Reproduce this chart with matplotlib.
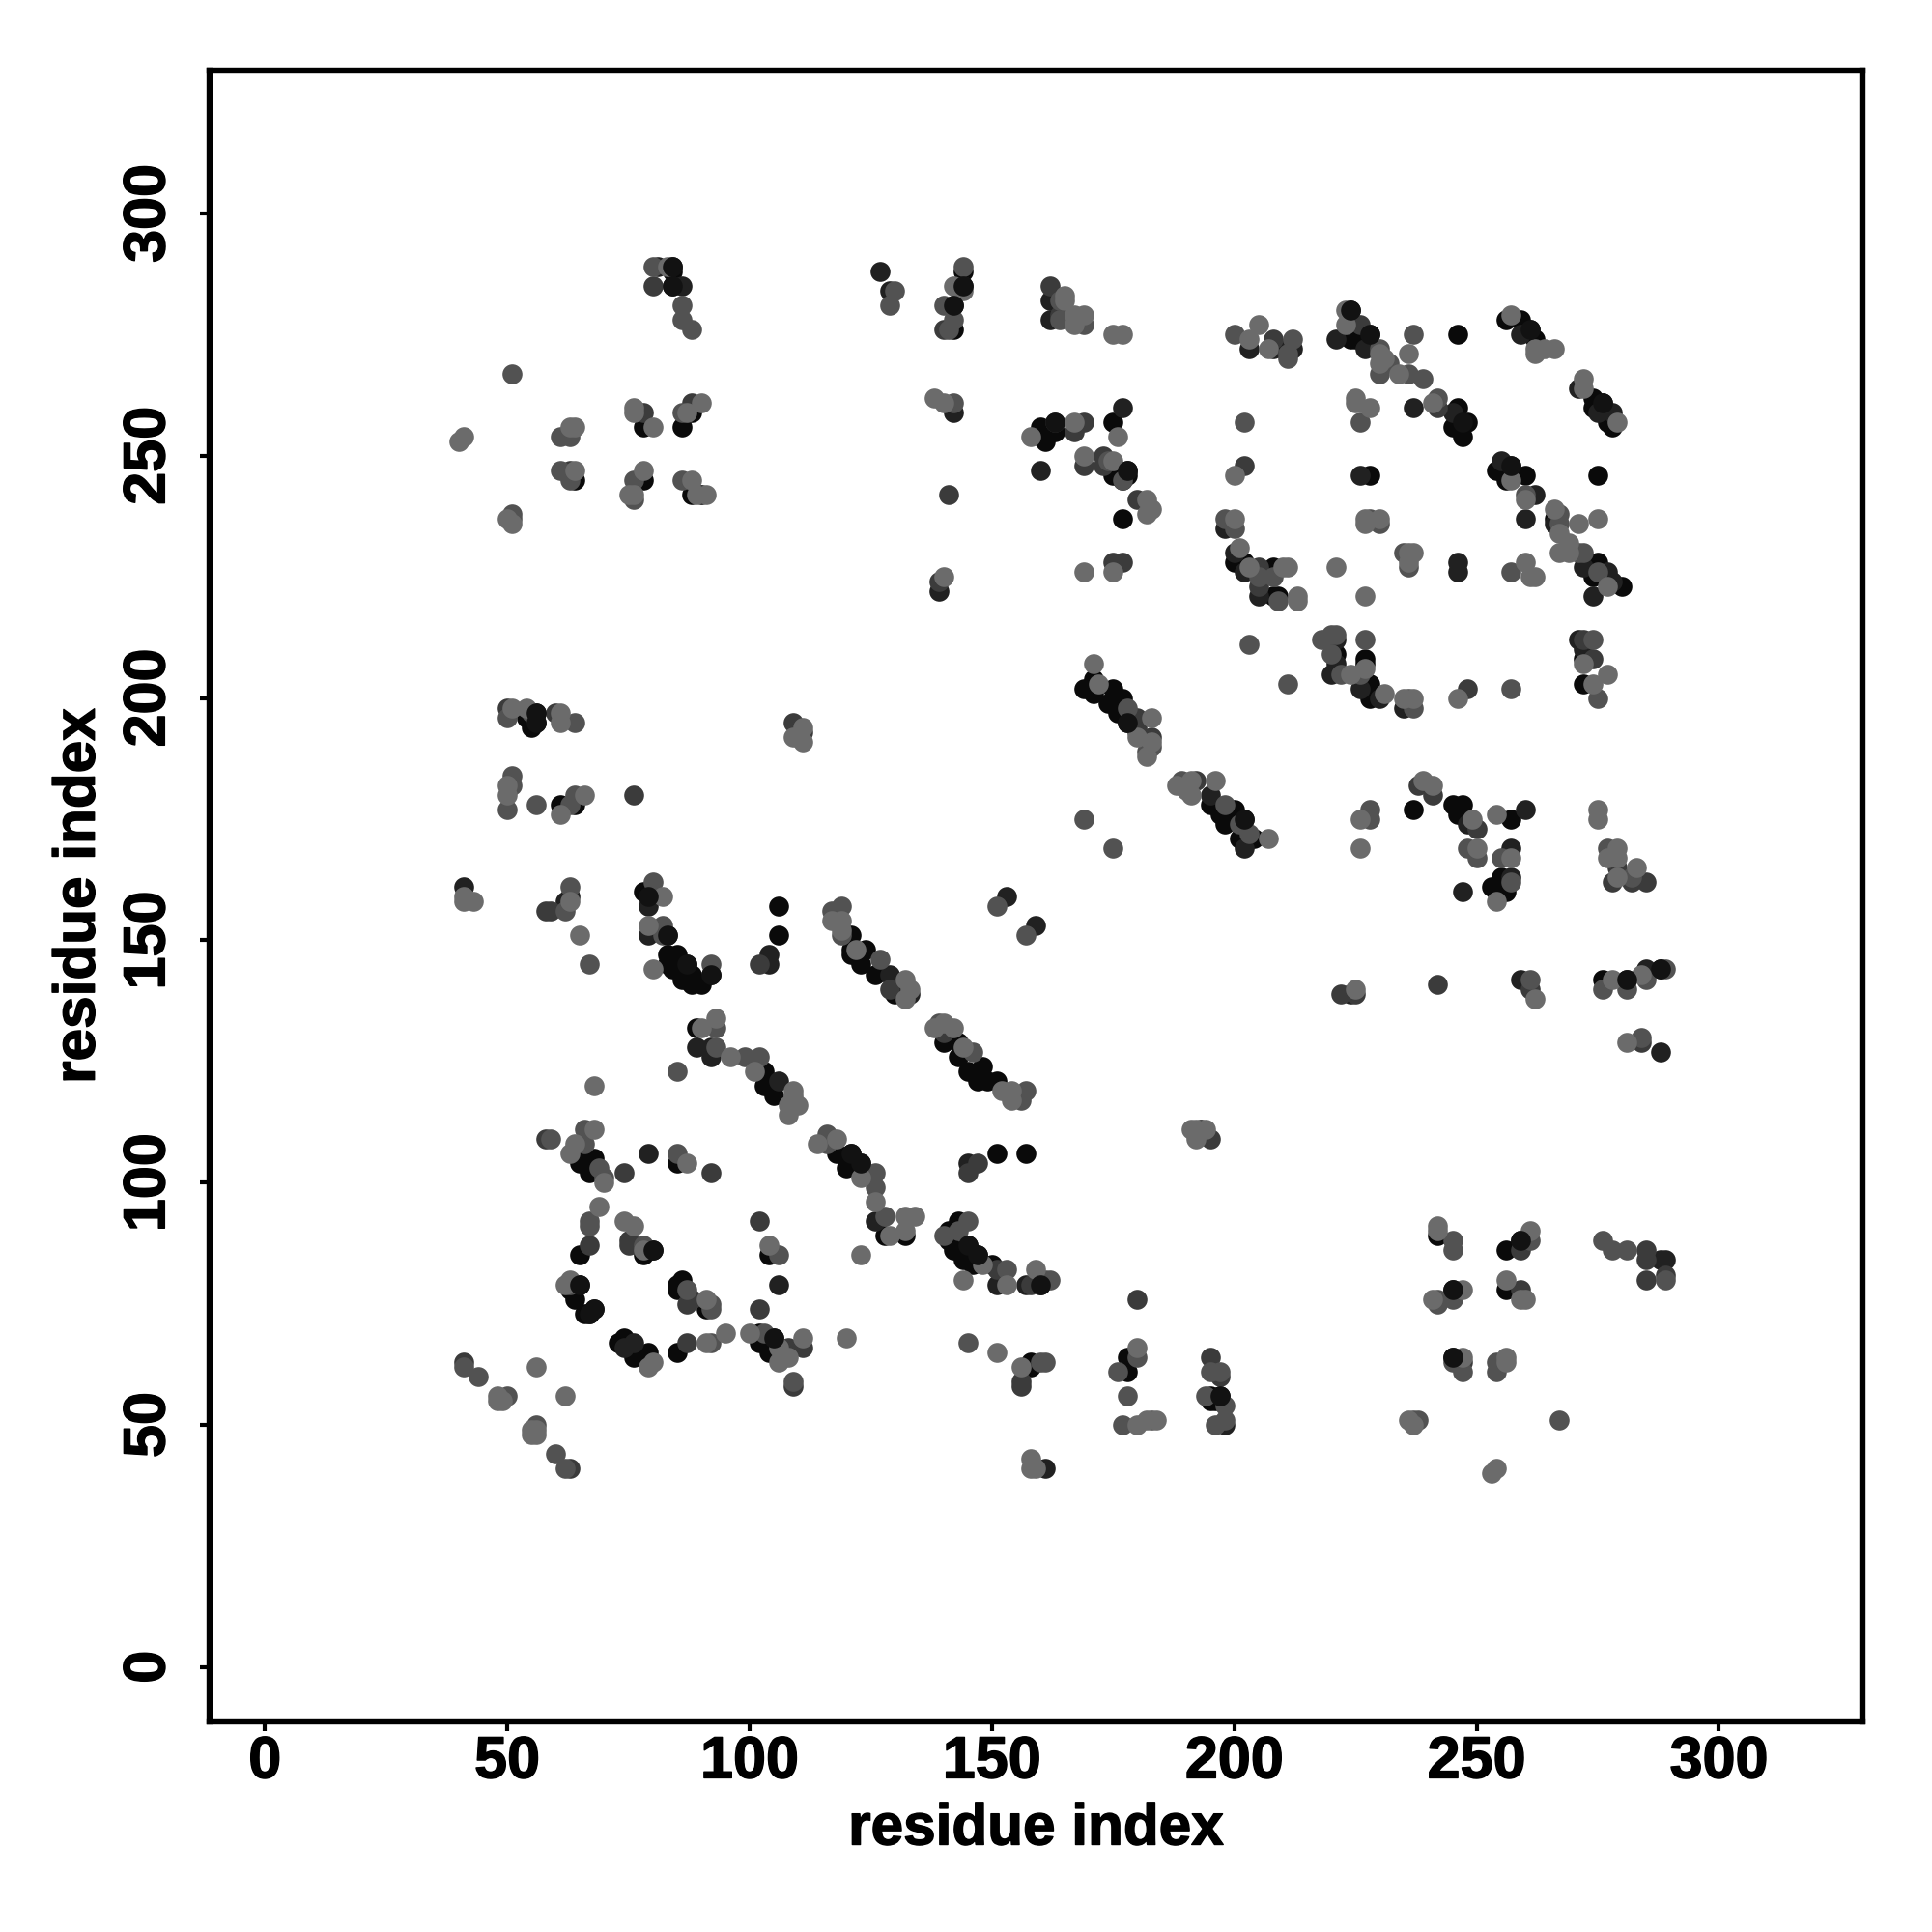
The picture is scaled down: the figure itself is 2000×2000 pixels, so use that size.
import matplotlib
matplotlib.use("Agg")
import matplotlib.pyplot as plt
import matplotlib.patheffects as pe

# contact map points, one list per grey level
black = [(84,289),(142,281),(144,288),(142,276),(84,288),(78,256),(88,259),(86,256),(64,245),(78,245),(88,242),(90,242),
         (160,256),(160,254),(161,253),(163,255),(175,257),(175,247),(175,246),(178,247),(178,246),(177,245),(200,228),
         (202,228),(208,227),(208,221),(209,221),(177,237),(224,280),(224,277),(225,274),(228,275),(224,274),(246,275),
         (256,278),(259,278),(261,276),(262,274),(274,262),(276,261),(274,260),(277,257),(278,256),(246,260),(245,256),
         (247,257),(248,257),(247,254),(254,247),(257,248),(256,245),(260,246),(228,246),(275,246),(266,237),(275,228),
         (274,225),(280,223),(221,209),(227,208),(272,208),(169,202),(171,204),(171,201),(175,202),(174,199),(177,200),
         (176,197),(178,195),(195,178),(197,176),(200,177),(198,174),(202,175),(201,171),(204,171),(202,170),(121,151),
         (124,148),(123,145),(126,143),(130,139),(140,129),(141,131),(143,129),(143,126),(145,123),(148,124),(147,121),
         (151,121),(149,121),(151,106),(157,106),(121,106),(123,104),(123,102),(128,89),(132,89),(143,92),(141,90),
         (141,88),(142,86),(145,87),(144,86),(147,85),(144,84),(146,83),(150,83),(160,79),(160,80),(158,63),(158,62),
         (178,64),(178,61),(195,56),(197,56),(195,55),(196,55),(56,197),(54,196),(55,195),(56,195),(55,194),(61,178),
         (64,178),(78,160),(79,159),(83,147),(85,147),(83,145),(87,145),(84,144),(92,143),(86,142),(88,143),(90,141),
         (88,141),(106,157),(106,151),(121,148),(121,147),(89,132),(103,123),(104,121),(103,120),(105,118),(65,105),
         (65,104),(68,105),(67,102),(85,104),(118,106),(120,103),(65,85),(78,85),(80,86),(104,85),(65,79),(63,78),
         (64,76),(66,73),(68,74),(67,73),(86,80),(85,79),(85,78),(91,74),(74,68),(73,67),(79,65),(76,64),(79,63),
         (85,65),(102,69),(102,67),(104,65),(105,68),(242,89),(256,86),(259,88),(245,78),(256,78),(245,64),(227,207),
         (228,203),(228,200),(272,203),(237,177),(245,178),(247,178),(246,176),(253,161),(255,163),(254,160),(256,160),
         (257,175),(276,142),(281,142),(288,144)]

dark = [(127,288),(129,284),(81,289),(84,285),(86,285),(144,285),(142,259),(162,282),(162,278),(165,279),(203,272),
        (208,272),(210,272),(212,272),(221,274),(227,272),(259,275),(278,259),(275,259),(271,264),(237,260),(245,259),
        (255,249),(226,246),(262,242),(260,237),(266,236),(272,227),(277,226),(278,224),(274,221),(246,228),(246,226),
        (221,212),(221,207),(220,205),(271,212),(272,210),(160,247),(177,260),(198,235),(200,230),(202,226),(205,221),
        (139,222),(195,180),(202,169),(153,159),(159,153),(129,143),(133,139),(145,104),(126,92),(151,79),(157,79),
        (161,41),(198,50),(41,161),(63,159),(62,158),(79,157),(79,151),(83,151),(104,147),(104,145),(89,128),(92,128),
        (92,126),(106,121),(79,106),(76,67),(74,66),(106,79),(289,84),(288,84),(248,174),(260,177),(257,169),(257,163),
        (247,160),(224,139),(259,142),(285,144),(288,127),(226,202),(230,200),(235,198),(193,111)]

mid = [(80,285),(78,259),(88,261),(63,247),(162,285),(140,276),(164,279),(166,279),(208,274),(226,277),(242,260),
       (173,250),(173,248),(180,241),(205,227),(205,223),(202,248),(139,224),(175,228),(177,228),(141,242),(163,257),
       (167,255),(169,257),(169,248),(192,183),(189,182),(180,196),(180,194),(180,193),(183,192),(50,198),(109,195),
       (111,193),(60,197),(76,180),(58,156),(59,156),(140,131),(129,140),(147,104),(145,102),(151,82),(158,79),(180,76),
       (156,59),(156,58),(195,64),(197,60),(41,63),(102,145),(102,92),(75,88),(75,87),(67,87),(74,102),(58,109),(92,102),
       (87,67),(88,76),(87,75),(108,66),(111,66),(109,58),(63,41),(102,74),(285,86),(285,84),(285,80),(289,81),(259,86),
       (259,78),(247,63),(248,202),(274,208),(238,182),(241,180),(250,173),(272,212),(222,139),(225,139),(242,141),
       (261,140),(279,165),(278,162),(282,162),(285,162),(284,129),(195,109)]

grey = [(80,289),(86,281),(86,278),(88,276),(51,267),(61,254),(63,254),(86,259),(61,247),(63,245),(76,245),(86,245),
        (76,241),(51,238),(51,237),(130,284),(129,281),(144,289),(140,281),(141,276),(142,278),(142,261),(164,282),
        (164,278),(169,277),(200,275),(212,274),(211,271),(211,270),(174,249),(177,245),(209,220),(230,272),(232,269),
        (230,267),(237,275),(236,267),(239,266),(226,257),(242,262),(260,242),(228,237),(230,236),(267,238),(267,236),
        (271,230),(272,230),(275,226),(236,227),(235,230),(257,226),(198,237),(200,235),(208,225),(205,225),(203,211),
        (202,257),(218,212),(220,213),(221,213),(220,209),(227,212),(274,212),(178,198),(183,190),(182,189),(198,178),
        (201,174),(203,172),(169,175),(175,169),(151,157),(157,151),(211,203),(189,183),(127,146),(146,127),(139,133),
        (157,119),(156,117),(126,102),(126,99),(128,93),(145,92),(143,90),(140,89),(153,82),(162,80),(161,80),(145,67),
        (160,63),(161,63),(180,64),(176,61),(178,56),(177,50),(183,51),(195,61),(197,61),(194,56),(198,54),(196,50),
        (198,51),(50,196),(55,197),(64,195),(51,184),(51,182),(50,177),(56,178),(63,178),(64,180),(63,161),(62,156),
        (67,145),(80,162),(82,153),(82,151),(92,145),(117,156),(119,157),(119,151),(93,132),(93,128),(99,126),(102,126),
        (85,123),(66,111),(59,109),(66,108),(69,103),(70,101),(85,106),(116,110),(116,108),(67,92),(67,91),(78,87),
        (106,85),(63,79),(87,78),(92,75),(92,74),(92,67),(103,69),(109,59),(41,62),(44,60),(50,56),(56,50),(60,44),
        (62,41),(245,86),(276,88),(278,86),(281,86),(289,80),(242,76),(242,75),(245,76),(245,63),(247,61),(254,63),
        (254,61),(238,51),(237,51),(267,51),(222,205),(226,205),(236,200),(237,198),(257,202),(275,200),(228,177),
        (228,175),(248,169),(250,167),(255,167),(257,162),(277,169),(282,163),(261,142),(276,140),(281,140),(285,142),
        (289,144),(284,130),(261,88),(245,88)]

light = [(83,289),(88,245),(76,260),(76,259),(80,256),(90,261),(87,259),(64,256),(63,256),(41,254),(40,253),(64,247),
         (78,247),(75,242),(76,242),(89,242),(91,242),(50,237),(51,236),(142,285),(144,284),(138,262),(140,261),
         (165,283),(165,282),(167,279),(169,279),(167,277),(175,275),(177,275),(203,274),(207,272),(205,277),(223,280),
         (223,277),(231,270),(230,269),(230,271),(234,267),(236,271),(257,279),(262,272),(264,272),(266,272),(262,271),
         (272,266),(272,264),(279,257),(225,262),(225,261),(228,260),(241,261),(257,245),(260,241),(227,237),(230,237),
         (227,236),(266,239),(271,236),(275,237),(267,234),(267,230),(269,232),(269,230),(236,230),(236,228),(237,230),
         (277,223),(260,228),(261,225),(262,225),(221,227),(227,221),(175,249),(182,241),(183,239),(182,238),(176,254),
         (167,257),(158,254),(169,250),(200,237),(201,231),(203,227),(210,227),(211,227),(213,221),(213,220),(200,246),
         (140,225),(169,226),(175,226),(171,207),(172,203),(183,196),(183,191),(180,192),(182,188),(188,182),(191,183),
         (191,180),(190,181),(196,183),(207,171),(122,148),(132,142),(133,140),(132,138),(138,132),(140,133),(142,132),
         (144,128),(152,119),(154,119),(154,117),(191,111),(192,111),(194,111),(192,109),(123,101),(126,96),(132,93),
         (134,93),(132,90),(129,89),(123,85),(148,83),(144,80),(153,79),(159,82),(151,65),(156,62),(180,66),(180,50),
         (182,51),(184,51),(158,43),(158,41),(159,41),(51,198),(54,198),(61,197),(61,195),(111,194),(109,192),(111,191),
         (50,182),(50,180),(61,176),(66,180),(41,159),(41,158),(43,158),(63,158),(65,151),(82,159),(79,153),(80,144),
         (117,154),(119,154),(119,152),(90,132),(93,134),(96,126),(101,123),(109,119),(68,120),(109,118),(110,116),
         (108,116),(108,114),(68,111),(64,108),(63,106),(70,100),(114,108),(118,109),(69,95),(74,92),(76,91),(78,86),
         (104,87),(87,104),(63,80),(62,79),(91,76),(80,63),(79,62),(91,67),(95,69),(100,69),(106,66),(111,68),(108,64),
         (106,63),(120,68),(48,56),(48,55),(49,55),(56,62),(62,56),(55,49),(56,49),(55,48),(56,48),(242,91),(242,90),
         (241,76),(247,78),(256,80),(259,76),(260,76),(247,64),(256,64),(256,63),(236,51),(237,50),(254,41),(253,40),
         (261,90),(231,201),(224,205),(227,206),(235,200),(237,200),(246,200),(277,205),(274,203),(272,207),(239,183),
         (241,182),(226,175),(226,169),(249,175),(254,176),(250,169),(257,167),(254,158),(275,177),(275,175),(279,169),
         (277,167),(279,167),(279,163),(283,165),(225,140),(262,138),(278,142),(284,143),(281,129)]

# near black points that sit on top of the lighter ones
on_top = [(84,289),(84,285),(144,285),(142,281),(163,257),(178,247),(224,280),(261,276),(228,275),(276,261),(247,257),
          (257,248),(202,175),(178,195),(83,151),(92,143),(87,145),(65,79),(67,73),(68,74),(80,86),(105,68),(145,87),
          (147,85),(160,79),(197,56),(56,197),(56,195),(79,159),(123,104),(121,106),(288,144),(281,142),(245,78),
          (245,64),(259,88)]

shades = [0.04, 0.13, 0.23, 0.32, 0.42, 0.07]
groups = [black, dark, mid, grey, light, on_top]

tick_vals = [0, 50, 100, 150, 200, 250, 300]

plt.rcParams['font.family'] = ['Liberation Sans', 'DejaVu Sans']
plt.rcParams['font.weight'] = 'bold'

fig = plt.figure(figsize=(10, 10), dpi=200)
ax = fig.add_axes([0.1085, 0.109, 0.8555, 0.8545])

for pts, shade in zip(groups, shades):
    xs = [p[0] for p in pts]
    ys = [p[1] for p in pts]
    ax.scatter(xs, ys, s=55, color=str(shade), linewidths=0, zorder=3)

ax.set_xlim(-11.4, 329.6)
ax.set_ylim(-11.2, 329.5)
ax.set_xticks(tick_vals)
ax.set_yticks(tick_vals)
ax.tick_params(axis='x', length=3.6, width=1.5, labelsize=22, pad=1.6)
ax.tick_params(axis='y', length=3.6, width=1.5, labelsize=22, pad=8.5)
for lab in ax.get_yticklabels():
    lab.set_rotation(90)
    lab.set_va('center')
for s in ax.spines.values():
    s.set_linewidth(2.3)

ax.set_xlabel("residue index", fontsize=21.7, fontweight='bold', labelpad=4.7)
ax.set_ylabel("residue index", fontsize=21.7, fontweight='bold', labelpad=6)

# reference glyphs are a bit heavier than Liberation bold
heavy = [pe.withStroke(linewidth=0.5, foreground='black')]
for t in ax.get_xticklabels() + ax.get_yticklabels() + [ax.xaxis.label, ax.yaxis.label]:
    t.set_path_effects(heavy)

fig.savefig("out.png", dpi=200)
